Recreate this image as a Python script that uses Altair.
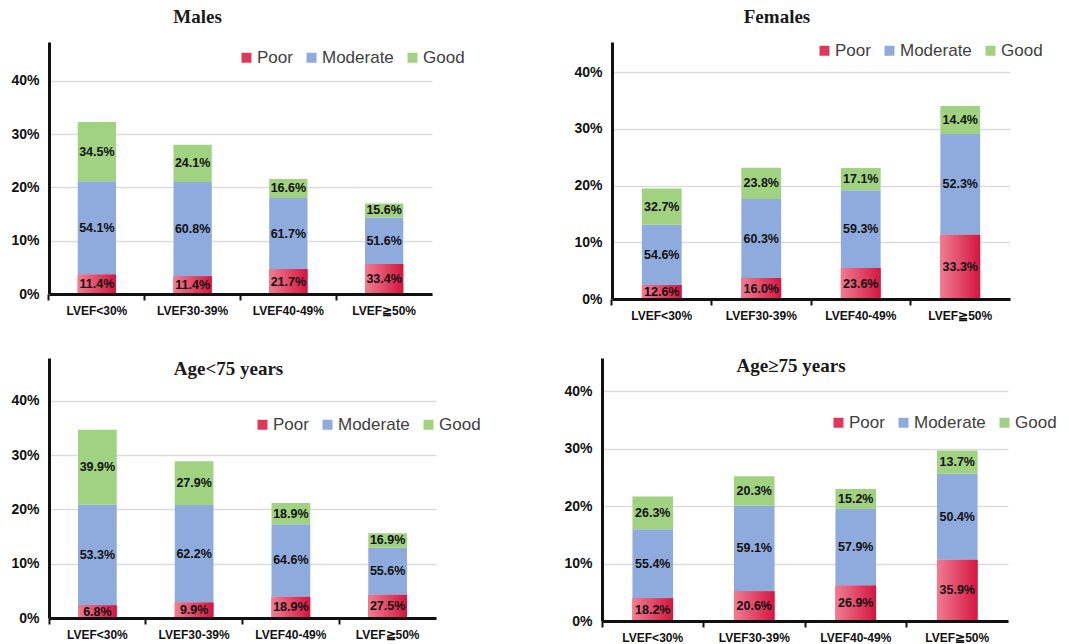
import altair as alt
import pandas as pd

SANS = "Liberation Sans"
SERIF = "Liberation Serif"

categories = ["LVEF<30%", "LVEF30-39%", "LVEF40-49%", "LVEF≧50%"]
levels = ["Poor", "Moderate", "Good"]
level_colors = ["#E0385A", "#8FAADC", "#A0D282"]

# Share of patients in each LVEF group (bar height, %)
males_total = [32.3, 29.1, 21.6, 16.9]
females_total = [19.5, 23.1, 23.1, 34.0]
young_total = [34.7, 28.9, 20.7, 15.6]
old_total = [21.7, 25.2, 23.0, 29.7]

# Outcome split inside each LVEF group (%)
males_poor = [11.4, 11.4, 21.7, 33.4]
males_moderate = [54.1, 60.8, 61.7, 51.6]
males_good = [34.5, 24.1, 16.6, 15.6]

females_poor = [12.6, 16.0, 23.6, 33.3]
females_moderate = [54.6, 60.3, 59.3, 52.3]
females_good = [32.7, 23.8, 17.1, 14.4]

young_poor = [6.8, 9.9, 18.9, 27.5]
young_moderate = [53.3, 62.2, 64.6, 55.6]
young_good = [39.9, 27.9, 18.9, 16.9]

old_poor = [18.2, 20.6, 26.9, 35.9]
old_moderate = [55.4, 59.1, 57.9, 50.4]
old_good = [26.3, 20.3, 15.2, 13.7]

poor_gradient = alt.Gradient(
    gradient="linear",
    stops=[alt.GradientStop(color="#F07C92", offset=0),
           alt.GradientStop(color="#D4163F", offset=1)],
    x1=0, x2=1, y1=0, y2=0,
)


def panel(title, totals, poor, moderate, good, ymax, width, height,
          legend_x, legend_y, title_dx, title_dy):
    rows = []
    for i, cat in enumerate(categories):
        for k, (lvl, share) in enumerate(zip(levels, [poor[i], moderate[i], good[i]])):
            rows.append({"category": cat, "level": lvl, "order": k,
                         "total": totals[i], "share": share})
    df = pd.DataFrame(rows)

    x = alt.X(
        "category:N", sort=categories, title=None,
        scale=alt.Scale(paddingInner=0.6, paddingOuter=0.3),
        axis=alt.Axis(labelAngle=0, labelFont=SANS, labelFontSize=12,
                      labelFontWeight="bold", labelColor="#111111",
                      labelPadding=5, domainColor="#111111", domainWidth=3,
                      tickColor="#111111", tickWidth=2, tickSize=6,
                      bandPosition=-0.75, grid=False, zindex=1),
    )
    yscale = alt.Scale(domain=[0, ymax], nice=False, zero=True)
    yaxis = alt.Axis(values=[0, 10, 20, 30, 40], labelExpr="datum.value + '%'",
                     title=None, labelFont=SANS, labelFontSize=14,
                     labelFontWeight="bold", labelColor="#111111",
                     labelPadding=10, ticks=False, domainColor="#111111",
                     domainWidth=3, grid=True, gridColor="#DCDCDC",
                     gridWidth=1.5, zindex=0)

    base = (
        alt.Chart(df)
        .transform_calculate(value="datum.total * datum.share / 100")
        .transform_stack(stack="value", groupby=["category"], as_=["y0", "y1"],
                         sort=[alt.SortField("order", order="ascending")])
        .transform_calculate(mid="(datum.y0 + datum.y1) / 2",
                             label="format(datum.share, '.1f') + '%'")
    )

    bars = base.mark_bar().encode(
        x=x,
        y=alt.Y("y0:Q", scale=yscale, axis=yaxis),
        y2="y1:Q",
        color=alt.Color(
            "level:N",
            scale=alt.Scale(domain=levels, range=level_colors),
            legend=alt.Legend(orient="none", legendX=legend_x, legendY=legend_y,
                              direction="horizontal", title=None,
                              symbolType="square", symbolSize=100,
                              symbolStrokeWidth=0, labelFont=SANS,
                              labelFontSize=17, labelColor="#404040",
                              columnPadding=10, labelOffset=2, padding=0),
        ),
    )

    poor_bars = base.transform_filter("datum.level == 'Poor'").mark_bar(
        color=poor_gradient
    ).encode(x=x, y=alt.Y("y0:Q", scale=yscale, axis=yaxis), y2="y1:Q")

    labels = base.mark_text(font=SANS, fontSize=12.5, fontWeight="bold",
                            color="#111111").encode(
        x=x, y=alt.Y("mid:Q", scale=yscale, axis=yaxis), text="label:N"
    )

    return alt.layer(bars, poor_bars, labels).properties(
        width=width, height=height,
        view=alt.ViewBackground(stroke="transparent", strokeWidth=0),
        title=alt.TitleParams(title, font=SERIF, fontSize=19, fontWeight="bold",
                              color="#1a1a1a", anchor="middle", frame="group",
                              offset=15, dx=title_dx, dy=title_dy),
    )


p_males = panel("Males", males_total, males_poor, males_moderate, males_good,
                47.3, 383, 252, 189, 7, -43, 0)
p_females = panel("Females", females_total, females_poor, females_moderate,
                  females_good, 45.3, 398, 257, 204, 0, -34, 0)
p_young = panel("Age<75 years", young_total, young_poor, young_moderate,
                young_good, 47.9, 387, 260, 205, 58, -14, 36)
p_old = panel("Age≥75 years", old_total, old_poor, old_moderate, old_good,
              45.8, 406, 263, 228, 56, -14, 33)

top_row = alt.hconcat(p_males, p_females, spacing=108).resolve_scale(
    color="independent").resolve_legend(color="independent")
bottom_row = alt.hconcat(p_young, p_old, spacing=82).resolve_scale(
    color="independent").resolve_legend(color="independent")

chart = (
    alt.vconcat(top_row, bottom_row, spacing=36)
    .resolve_scale(color="independent")
    .resolve_legend(color="independent")
    .properties(padding={"left": 10, "top": 8, "right": 0, "bottom": 0})
    .configure_view(stroke="transparent", strokeWidth=0)
    .configure(background="white")
)

chart.save("out.html", embed_options={"renderer": "svg", "actions": False})
